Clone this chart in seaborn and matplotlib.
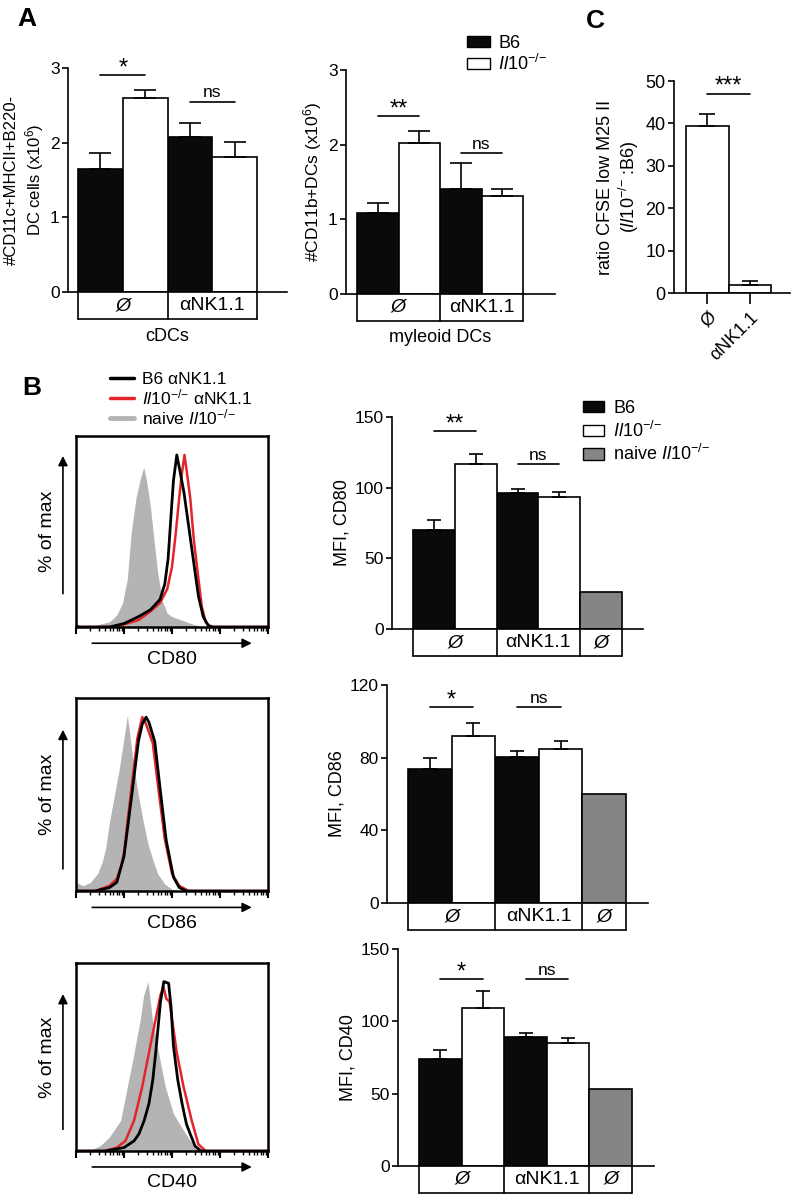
import numpy as np
import pandas as pd
import matplotlib
matplotlib.use('Agg')
import matplotlib.pyplot as plt
from matplotlib.patches import Patch
from matplotlib.lines import Line2D
from matplotlib.ticker import LogLocator, NullFormatter
import seaborn as sns

sns.set_style('ticks', {'axes.edgecolor': 'black', 'xtick.color': 'black', 'ytick.color': 'black',
                        'text.color': 'black', 'axes.labelcolor': 'black'})
plt.rcParams['font.family'] = ['Liberation Sans', 'DejaVu Sans']
plt.rcParams['mathtext.fontset'] = 'custom'
plt.rcParams['mathtext.rm'] = 'Liberation Sans'
plt.rcParams['mathtext.it'] = 'Liberation Sans:italic'
plt.rcParams['mathtext.bf'] = 'Liberation Sans:bold'
plt.rcParams['axes.linewidth'] = 1.2

W, H = 796, 1200
KO = r'$Il10^{{-}/{-}}$'
NONE = 'Ø'
NK = 'αNK1.1'
PAL = {'B6': '#0a0a0a', 'KO': 'white', 'naive': '#858585'}

# ---------------- data ----------------
# panel A (B6 / Il10-/- , untreated / anti-NK1.1)
a_strain = ['B6', 'KO', 'B6', 'KO']
a_treat = [NONE, NONE, NK, NK]
cdc_mean = [1.65, 2.60, 2.07, 1.81]
cdc_sem = [0.21, 0.10, 0.20, 0.20]
cdc_sig = [(0, 1, 2.90, '*'), (2, 3, 2.55, 'ns')]
mdc_mean = [1.08, 2.02, 1.40, 1.31]
mdc_sem = [0.14, 0.16, 0.35, 0.10]
mdc_sig = [(0, 1, 2.38, '**'), (2, 3, 1.89, 'ns')]

# panel C
c_strain = ['KO', 'KO']
c_treat = [NONE, NK]
ratio_mean = [39.5, 1.8]
ratio_sem = [2.7, 1.0]
ratio_sig = [(0, 1, 47, '***')]

# panel B bars
b_strain = ['B6', 'KO', 'B6', 'KO', 'naive']
b_treat = [NONE, NONE, NK, NK, NONE]
cd80_mean = [70, 117, 96, 93.5, 26]
cd80_sem = [7, 7, 3, 3.5, np.nan]
cd80_sig = [(0, 1, 140, '**'), (2, 3, 117, 'ns')]
cd86_mean = [74, 92, 80.5, 85, 60]
cd86_sem = [6, 7, 3, 4, np.nan]
cd86_sig = [(0, 1, 108, '*'), (2, 3, 108, 'ns')]
cd40_mean = [74, 109, 89, 85, 53.5]
cd40_sem = [6, 12, 3, 3.5, np.nan]
cd40_sig = [(0, 1, 129, '*'), (2, 3, 129, 'ns')]

# panel B histograms (x = log10 fluorescence, y = % of max)
cd80_naive_x = [0.0, 0.1, 0.4, 0.7, 0.85, 0.97, 1.07, 1.15, 1.25, 1.33, 1.41, 1.47, 1.55, 1.62, 1.7, 1.8, 1.9, 2.0, 2.1, 2.25, 2.45, 2.7, 4.0]
cd80_naive_y = [1.5, 0.3, 1, 3, 7, 14, 28, 55, 75, 85, 93, 85, 70, 52, 32, 15, 8, 6, 5, 3.5, 1.5, 0, 0]
cd80_b6_x = [0.0, 0.7, 1.0, 1.3, 1.55, 1.75, 1.85, 1.92, 1.98, 2.03, 2.1, 2.17, 2.25, 2.35, 2.45, 2.55, 2.65, 2.75, 2.85, 4.0]
cd80_b6_y = [0, 0, 2, 6, 10, 16, 25, 40, 65, 85, 100, 90, 78, 58, 38, 18, 6, 1, 0, 0]
cd80_ko_x = [0.0, 0.05, 0.75, 1.0, 1.3, 1.55, 1.75, 1.9, 2.0, 2.08, 2.15, 2.2, 2.26, 2.3, 2.38, 2.45, 2.55, 2.62, 2.7, 2.8, 4.0]
cd80_ko_y = [1.5, 0, 0, 1.5, 4, 9, 14, 22, 35, 55, 75, 88, 100, 92, 75, 52, 28, 12, 3, 0, 0]

cd86_naive_x = [0.0, 0.15, 0.3, 0.45, 0.55, 0.62, 0.7, 0.8, 0.9, 1.0, 1.07, 1.12, 1.2, 1.3, 1.4, 1.5, 1.6, 1.7, 1.85, 2.0, 2.2, 4.0]
cd86_naive_y = [5, 3, 5, 10, 17, 25, 40, 55, 70, 88, 101, 90, 72, 55, 40, 27, 18, 10, 4, 1, 0, 0]
cd86_b6_x = [0.0, 0.4, 0.7, 0.85, 1.0, 1.17, 1.3, 1.38, 1.46, 1.52, 1.64, 1.76, 1.88, 2.03, 2.15, 2.3, 4.0]
cd86_b6_y = [0, 0, 2, 5, 20, 57, 86, 96, 100, 97, 86, 57, 29, 8, 2, 0, 0]
cd86_ko_x = [0.0, 0.4, 0.7, 0.85, 0.95, 1.0, 1.15, 1.28, 1.38, 1.46, 1.6, 1.72, 1.85, 2.0, 2.15, 2.35, 4.0]
cd86_ko_y = [0, 0, 3, 7, 15, 22, 58, 88, 100, 96, 85, 58, 30, 10, 3, 0, 0]

cd40_naive_x = [0.0, 0.3, 0.5, 0.69, 0.93, 1.07, 1.21, 1.34, 1.41, 1.5, 1.59, 1.72, 1.86, 2.03, 2.2, 2.38, 2.55, 2.7, 4.0]
cd40_naive_y = [0, 0.5, 3, 8, 18, 38, 58, 78, 92, 100, 78, 58, 38, 22, 14, 6, 2, 0, 0]
cd40_b6_x = [0.0, 0.6, 1.0, 1.21, 1.31, 1.42, 1.52, 1.6, 1.66, 1.76, 1.83, 1.93, 1.98, 2.03, 2.12, 2.21, 2.3, 2.38, 2.48, 2.6, 4.0]
cd40_b6_y = [0, 0, 2, 6, 10, 18, 28, 42, 58, 88, 100, 99, 85, 62, 42, 28, 16, 10, 3, 0, 0]
cd40_ko_x = [0.0, 0.6, 0.85, 1.03, 1.21, 1.38, 1.52, 1.66, 1.76, 1.82, 1.88, 1.95, 2.0, 2.1, 2.24, 2.41, 2.55, 2.7, 4.0]
cd40_ko_y = [0, 0, 2, 6, 18, 38, 58, 78, 92, 97, 90, 88, 78, 58, 38, 18, 4, 0, 0]

fig = plt.figure(figsize=(W / 100, H / 100), dpi=100)


def add_ax(x0, ytop, x1, ybot):
    return fig.add_axes([x0 / W, 1 - ybot / H, (x1 - x0) / W, (ybot - ytop) / H])


def bar_panel(rect, first_px, bar_px, strains, treats, means, sems, ymax, yticks, ylabel,
              sig, group_box=True, title=None, capsize=5, ylabel_size=13):
    x0, ytop, x1, ybot = rect
    ax = add_ax(*rect)
    n = len(means)
    df = pd.DataFrame({'slot': [str(i) for i in range(n)], 'value': means, 'strain': strains})
    sns.barplot(data=df, x='slot', y='value', hue='strain', palette=PAL, dodge=False, width=1,
                edgecolor='black', linewidth=1.2, errorbar=None, legend=False, ax=ax, zorder=2)
    sems = np.array(sems, dtype=float)
    xs = np.arange(n)
    m = ~np.isnan(sems)
    ax.errorbar(xs[m], np.array(means)[m], yerr=[np.zeros(m.sum()), sems[m]], fmt='none',
                ecolor='black', elinewidth=1.2, capsize=capsize, capthick=1.2, zorder=3)
    ax.set_xlim(-0.5 - (first_px - x0) / bar_px, -0.5 + (x1 - first_px) / bar_px)
    ax.set_ylim(0, ymax)
    ax.set_yticks(yticks)
    ax.tick_params(axis='y', labelsize=12.5, length=4, width=1.2, pad=2)
    ax.set_ylabel(ylabel, fontsize=ylabel_size, labelpad=3)
    ax.set_xlabel('')
    sns.despine(ax=ax)
    for a, b, y, lab in sig:
        ax.plot([a, b], [y, y], color='black', lw=1.2)
        if '*' in lab:
            ax.text((a + b) / 2, y - ymax * 0.02, lab, ha='center', va='bottom', fontsize=17)
        else:
            ax.text((a + b) / 2, y + ymax * 0.005, lab, ha='center', va='bottom', fontsize=12.5)
    h_px = ybot - ytop
    if group_box:
        ax.tick_params(axis='x', length=0, labelbottom=False)
        hb = 27 / h_px
        tr = ax.get_xaxis_transform()
        ax.plot([-0.5, n - 0.5], [-hb, -hb], color='black', lw=1.2, transform=tr, clip_on=False)
        start = 0
        ax.plot([-0.5, -0.5], [0, -hb], color='black', lw=1.2, transform=tr, clip_on=False)
        for i in range(1, n + 1):
            if i == n or treats[i] != treats[start]:
                ax.plot([i - 0.5, i - 0.5], [0, -hb], color='black', lw=1.2, transform=tr, clip_on=False)
                ax.text((start + i - 1) / 2, -hb / 2, treats[start], transform=tr, ha='center',
                        va='center', fontsize=14, style='italic' if treats[start] == NONE else 'normal')
                start = i
        if title:
            ax.text((n - 1) / 2, -44 / h_px, title, transform=tr, ha='center', va='center', fontsize=13)
    return ax


def hist_panel(rect, nx, ny, bx, by, kx, ky, marker, arrow_y):
    ax = add_ax(*rect)
    ax.fill_between(10 ** np.array(nx), ny, color='#b4b4b4', lw=0, zorder=1)
    sns.lineplot(x=10 ** np.array(kx), y=ky, color='#e3242b', lw=1.8, ax=ax, zorder=2)
    sns.lineplot(x=10 ** np.array(bx), y=by, color='black', lw=2.0, ax=ax, zorder=3)
    ax.set_xscale('log')
    ax.set_xlim(1, 1e4)
    ax.set_ylim(0, 111)
    ax.set_yticks([])
    ax.xaxis.set_major_locator(LogLocator(base=10, numticks=10))
    ax.xaxis.set_minor_locator(LogLocator(base=10, subs=np.arange(2, 10), numticks=10))
    ax.xaxis.set_minor_formatter(NullFormatter())
    ax.tick_params(axis='x', which='major', length=5, width=1.5, labelbottom=False)
    ax.tick_params(axis='x', which='minor', length=3, width=1)
    for s in ax.spines.values():
        s.set_linewidth(1.8)
    ax.annotate('', xy=(0.93, -0.085), xytext=(0.07, -0.085), xycoords='axes fraction',
                arrowprops=dict(arrowstyle='-|>', color='black', lw=1.2, mutation_scale=14),
                annotation_clip=False)
    ax.annotate('', xy=(-0.068, arrow_y[1]), xytext=(-0.068, arrow_y[0]), xycoords='axes fraction',
                arrowprops=dict(arrowstyle='-|>', color='black', lw=1.2, mutation_scale=14),
                annotation_clip=False)
    ax.text(0.5, -0.17, marker, transform=ax.transAxes, ha='center', va='center', fontsize=14)
    ax.text(-0.15, 0.5, '% of max', transform=ax.transAxes, ha='center', va='center',
            rotation=90, fontsize=14)
    ax.set_xlabel('')
    ax.set_ylabel('')
    return ax


# ---------------- panel A ----------------
bar_panel((68, 68, 287, 292), 78, 44.75, a_strain, a_treat, cdc_mean, cdc_sem, 3, [0, 1, 2, 3],
          '#CD11c+MHCII+B220-\nDC cells (x10$^{6}$)', cdc_sig, title='cDCs', capsize=8,
          ylabel_size=12)
bar_panel((346, 70, 555, 294), 357, 41.5, a_strain, a_treat, mdc_mean, mdc_sem, 3, [0, 1, 2, 3],
          '#CD11b+DCs (x10$^{6}$)', mdc_sig, title='myleoid DCs', capsize=8, ylabel_size=12.5)
fig.legend(handles=[Patch(facecolor=PAL['B6'], edgecolor='black', lw=1, label='B6'),
                    Patch(facecolor=PAL['KO'], edgecolor='black', lw=1, label=KO)],
           loc='upper left', bbox_to_anchor=(467 / W, 1 - 35 / H), frameon=False, fontsize=13,
           borderpad=0, borderaxespad=0, handlelength=1.27, handleheight=0.5,
           handletextpad=0.45, labelspacing=0.1)

# ---------------- panel C ----------------
axc = bar_panel((674, 81, 790, 293), 686, 42.5, c_strain, c_treat, ratio_mean, ratio_sem, 50,
                [0, 10, 20, 30, 40, 50], 'ratio CFSE low M25 II\n(' + KO + ' :B6)', ratio_sig,
                group_box=False, capsize=6)
axc.set_xticks([0, 1])
axc.set_xticklabels([NONE, NK], rotation=45, ha='right', rotation_mode='anchor', fontsize=13)
axc.tick_params(axis='x', length=8, width=1.2)
axc.tick_params(axis='y', labelsize=13)

# ---------------- panel B ----------------
hist_panel((76, 436, 268, 627), cd80_naive_x, cd80_naive_y, cd80_b6_x, cd80_b6_y,
           cd80_ko_x, cd80_ko_y, 'CD80', (0.16, 0.91))
hist_panel((76, 698, 268, 891), cd86_naive_x, cd86_naive_y, cd86_b6_x, cd86_b6_y,
           cd86_ko_x, cd86_ko_y, 'CD86', (0.1, 0.85))
hist_panel((76, 963, 268, 1151), cd40_naive_x, cd40_naive_y, cd40_b6_x, cd40_b6_y,
           cd40_ko_x, cd40_ko_y, 'CD40', (0.1, 0.85))
fig.legend(handles=[Line2D([], [], color='black', lw=2.5, label='B6 ' + NK),
                    Line2D([], [], color='#e3242b', lw=2.5, label=KO + ' ' + NK),
                    Line2D([], [], color='#b4b4b4', lw=3.5, label='naive ' + KO)],
           loc='upper left', bbox_to_anchor=(110 / W, 1 - 372 / H), frameon=False, fontsize=12.5,
           borderpad=0, borderaxespad=0, handlelength=1.4, handletextpad=0.45, labelspacing=0.0)

bar_panel((392, 417, 643, 629), 413, 41.8, b_strain, b_treat, cd80_mean, cd80_sem, 150,
          [0, 50, 100, 150], 'MFI, CD80', cd80_sig)
bar_panel((387, 685, 648, 903), 408, 43.6, b_strain, b_treat, cd86_mean, cd86_sem, 120,
          [0, 40, 80, 120], 'MFI, CD86', cd86_sig)
bar_panel((398, 949, 654, 1166), 419, 42.6, b_strain, b_treat, cd40_mean, cd40_sem, 150,
          [0, 50, 100, 150], 'MFI, CD40', cd40_sig)
fig.legend(handles=[Patch(facecolor=PAL['B6'], edgecolor='black', lw=1, label='B6'),
                    Patch(facecolor=PAL['KO'], edgecolor='black', lw=1, label=KO),
                    Patch(facecolor=PAL['naive'], edgecolor='black', lw=1, label='naive ' + KO)],
           loc='upper left', bbox_to_anchor=(583 / W, 1 - 400 / H), frameon=False, fontsize=13,
           borderpad=0, borderaxespad=0, handlelength=1.17, handleheight=0.6,
           handletextpad=0.5, labelspacing=0.2)

# panel letters
fig.text(27 / W, 1 - 19 / H, 'A', fontsize=19, fontweight='bold', ha='center', va='center')
fig.text(32 / W, 1 - 388 / H, 'B', fontsize=19, fontweight='bold', ha='center', va='center')
fig.text(595 / W, 1 - 21 / H, 'C', fontsize=19, fontweight='bold', ha='center', va='center')

fig.savefig('out.png', dpi=100)
